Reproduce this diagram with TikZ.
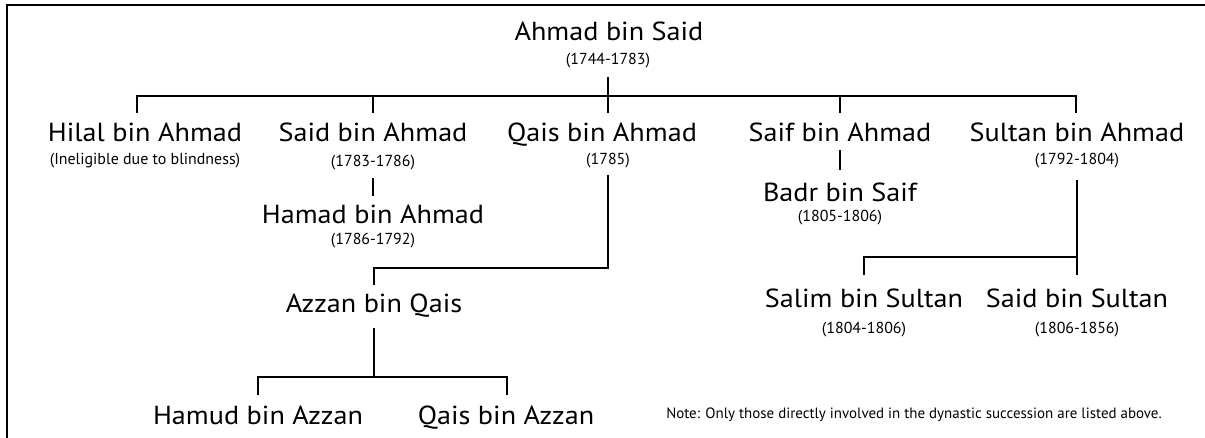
\documentclass[tikz,border=0pt]{standalone}
\usepackage{fontspec}
\setmainfont{PT Sans}
\newfontfamily\namefont{PT Sans}[FakeStretch=1.08]
\begin{document}
\begin{tikzpicture}[x=1bp,y=-1bp,
  nm/.style={inner sep=0pt,anchor=base,font=\namefont\fontsize{26.2}{28}\selectfont},
  yr/.style={inner sep=0pt,anchor=center,font=\fontsize{16}{18}\selectfont},
  conn/.style={line width=1.8bp,line cap=butt,line join=miter},
  frame/.style={line width=1.4bp}]
\useasboundingbox (0,0) rectangle (1205,438);
% frame
\coordinate (fbl) at (7,438);
\coordinate (ftl) at (7,5);
\coordinate (ftr) at (1205,5);
\draw[frame] (fbl) -- (ftl) -- (ftr);
% names
\node[nm] (ahmad) at (609,41) {Ahmad bin Said};
\node[yr] (ahmadY) at (608,61) {(1744-1783)};
\node[nm] (hilal) at (145,142) {Hilal bin Ahmad};
\node[yr] (hilalY) at (145,161) {(Ineligible due to blindness)};
\node[nm] (said) at (373,142) {Said bin Ahmad};
\node[yr] (saidY) at (373,163) {(1783-1786)};
\node[nm] (qais) at (602,142) {Qais bin Ahmad};
\node[yr] (qaisY) at (608,161) {(1785)};
\node[nm] (saif) at (840,142) {Saif bin Ahmad};
\node[nm] (sultan) at (1077,142) {Sultan bin Ahmad};
\node[yr] (sultanY) at (1077,161) {(1792-1804)};
\node[nm] (hamad) at (373,224) {Hamad bin Ahmad};
\node[yr] (hamadY) at (373,241) {(1786-1792)};
\node[nm] (badr) at (840,202) {Badr bin Saif};
\node[yr] (badrY) at (840,217.5) {(1805-1806)};
\node[nm] (azzan) at (374,313) {Azzan bin Qais};
\node[nm] (salim) at (864,308) {Salim bin Sultan};
\node[yr] (salimY) at (864,329.5) {(1804-1806)};
\node[nm] (saidS) at (1077,308) {Said bin Sultan};
\node[yr] (saidSY) at (1077,329.5) {(1806-1856)};
\node[nm] (hamud) at (258,425) {Hamud bin Azzan};
\node[nm] (qaisA) at (506,425) {Qais bin Azzan};
\node[inner sep=0pt,anchor=base,font=\fontsize{15}{17}\selectfont] (note) at (914,419) {Note: Only those directly involved in the dynastic succession are listed above.};
% connector coordinates
\coordinate (tA) at (608,77);
\coordinate (tB) at (608,113);
\coordinate (b1) at (137,113);
\coordinate (b1t) at (137,96);
\coordinate (b5t) at (1076,96);
\coordinate (b5) at (1076,113);
\coordinate (b2t) at (373,96);
\coordinate (b2) at (373,113);
\coordinate (b4t) at (840,96);
\coordinate (b4) at (840,113);
\coordinate (sh1) at (373,178);
\coordinate (sh2) at (373,196);
\coordinate (sb1) at (840,150);
\coordinate (sb2) at (840,170);
\coordinate (qa1) at (608,175);
\coordinate (qa2) at (608,268);
\coordinate (qa3) at (374,268);
\coordinate (qa4) at (374,285);
\coordinate (az1) at (374,328);
\coordinate (az2) at (374,377);
\coordinate (hm1) at (258,395);
\coordinate (hm2) at (258,377);
\coordinate (qz2) at (507,377);
\coordinate (qz1) at (507,395);
\coordinate (su1) at (1077,180);
\coordinate (su2) at (1077,275);
\coordinate (su3) at (1077,257);
\coordinate (sl2) at (864,257);
\coordinate (sl1) at (864,275);
% connectors
\draw[conn] (tA) -- (tB);
\draw[conn] (b1) -- (b1t) -- (b5t) -- (b5);
\draw[conn] (b2t) -- (b2);
\draw[conn] (b4t) -- (b4);
\draw[conn] (sh1) -- (sh2);
\draw[conn] (sb1) -- (sb2);
\draw[conn] (qa1) -- (qa2) -- (qa3) -- (qa4);
\draw[conn] (az1) -- (az2);
\draw[conn] (hm1) -- (hm2) -- (qz2) -- (qz1);
\draw[conn] (su1) -- (su2);
\draw[conn] (sl1) -- (sl2) -- (su3);
\end{tikzpicture}
\end{document}
